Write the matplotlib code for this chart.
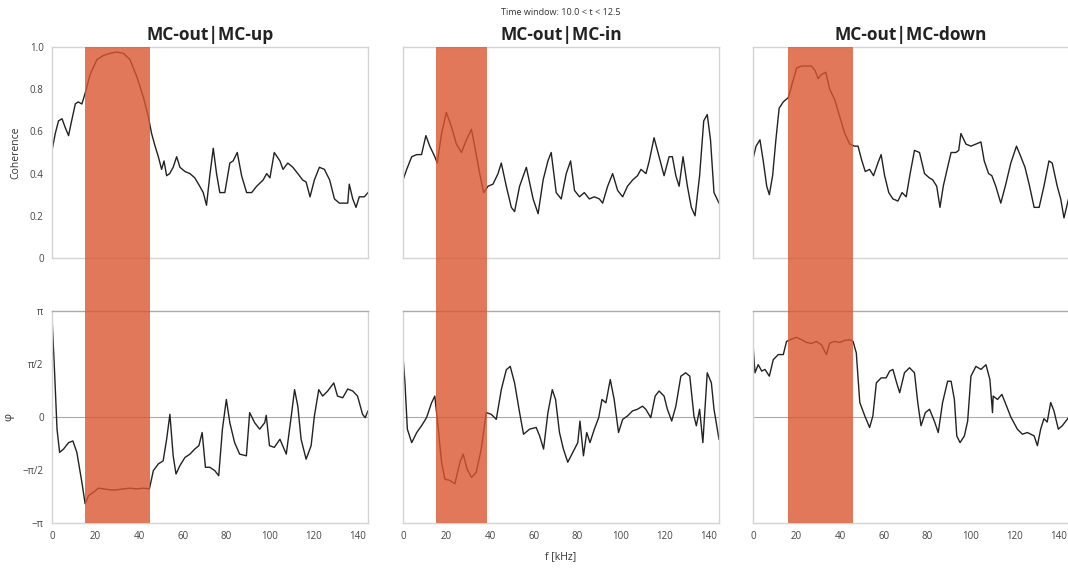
import numpy as np
import matplotlib
matplotlib.use("Agg")
import matplotlib.pyplot as plt
from matplotlib.patches import Rectangle
from matplotlib.transforms import blended_transform_factory

plt.rcParams['font.family'] = ['Open Sans', 'DejaVu Sans']

# --- data (f in kHz) ---
titles = ["MC-out|MC-up", "MC-out|MC-in", "MC-out|MC-down"]
bands = [(15, 45), (15, 38.5), (16, 46)]

f_coh_up = [0, 1.5, 3, 4.6, 6, 7.6, 9, 10.7, 12, 13.7, 15.2, 17.5, 20.6, 23.6, 26.7, 29.7, 32.8, 35.8,
            38.9, 42, 44.2, 45.7, 47.3, 48.8, 50.3, 51.4, 52.6, 54, 55.6, 57.2, 58.7, 61, 63.3, 65.5,
            67.8, 69.4, 70.9, 72.4, 74, 75.5, 77, 79.3, 81.6, 83.1, 85, 87, 89.3, 91.6, 93.9, 96.9,
            98.5, 100, 102, 104.6, 106, 108.2, 110.5, 112.8, 115, 116.6, 118.4, 120.4, 122.7, 125,
            127.4, 129.6, 131.9, 134.2, 135.7, 136.4, 138, 139.5, 141, 143.3, 145]
coh_up = [0.51, 0.59, 0.65, 0.66, 0.62, 0.58, 0.65, 0.73, 0.74, 0.73, 0.78, 0.87, 0.94, 0.96, 0.97,
          0.976, 0.97, 0.94, 0.86, 0.76, 0.67, 0.59, 0.53, 0.48, 0.42, 0.46, 0.39, 0.40, 0.43, 0.48,
          0.43, 0.41, 0.40, 0.38, 0.34, 0.31, 0.25, 0.39, 0.52, 0.40, 0.31, 0.31, 0.45, 0.46, 0.50,
          0.39, 0.31, 0.31, 0.34, 0.37, 0.40, 0.38, 0.50, 0.46, 0.42, 0.45, 0.43, 0.40, 0.37, 0.36,
          0.29, 0.37, 0.43, 0.42, 0.37, 0.28, 0.26, 0.26, 0.26, 0.35, 0.28, 0.24, 0.29, 0.29, 0.31]

f_ph_up = [0, 1.2, 2.3, 3.5, 5.3, 7.6, 9.6, 11.4, 13.7, 15.2, 16.8, 19, 21.3, 23.6, 26.7, 29.7, 32.8,
           35.8, 38.9, 42, 44.7, 46.5, 48.8, 51, 52.6, 54.1, 55.6, 56.9, 58.7, 61, 63.3, 65.5, 67.4,
           68.9, 70.4, 72.4, 74.7, 76.5, 78.2, 80, 81.6, 83.8, 86.1, 89.2, 90.7, 93, 95.3, 97.6,
           98.3, 99.8, 102, 104.6, 107.5, 109.8, 111.3, 112.8, 114.3, 116.6, 118.9, 120.4, 122.4,
           124.2, 126.5, 129.3, 131, 133.4, 135.7, 138, 140.2, 142.5, 143.7, 145]
ph_up = [2.97, 1.31, -0.36, -1.05, -0.95, -0.76, -0.71, -1.05, -1.93, -2.57, -2.33, -2.23, -2.11,
         -2.13, -2.16, -2.16, -2.13, -2.11, -2.13, -2.11, -2.13, -1.59, -1.39, -1.30, -0.66, 0.08,
         -1.15, -1.69, -1.44, -1.20, -1.10, -0.95, -0.85, -0.46, -1.49, -1.49, -1.59, -1.74, -0.36,
         0.52, -0.17, -0.76, -1.10, -1.15, 0.13, -0.17, -0.36, -0.17, 0.05, -0.85, -0.90, -0.66,
         -1.10, 0.03, 0.81, 0.32, -0.66, -1.25, -0.85, 0.03, 0.81, 0.62, 0.77, 1.01, 0.62, 0.57,
         0.83, 0.77, 0.62, 0.08, -0.02, 0.18]

f_coh_in = [0, 1.7, 4, 6.3, 8.5, 10.5, 12.3, 14.6, 15.7, 17.7, 19.9, 22.3, 24.5, 26.8, 29.1, 31.4,
            32.9, 35.2, 37, 39, 41.3, 43.6, 45.1, 47.4, 49.7, 51.2, 53.5, 56.6, 59.7, 62, 64.3, 66.5,
            68, 70.3, 72.6, 74.9, 76.9, 78.7, 81, 83.2, 85.5, 87.8, 90.1, 91.6, 93.9, 96.2, 98.5,
            100.8, 103, 105.4, 107.6, 109.2, 111.5, 113, 115.2, 117.5, 119.8, 122.1, 123.6, 125.2,
            126.7, 128.5, 130.5, 132.3, 134, 136.1, 138, 139.6, 141.1, 142.7, 145]
coh_in = [0.37, 0.42, 0.48, 0.49, 0.49, 0.58, 0.53, 0.48, 0.45, 0.59, 0.69, 0.62, 0.54, 0.50, 0.56,
          0.61, 0.53, 0.40, 0.31, 0.34, 0.35, 0.40, 0.45, 0.34, 0.24, 0.22, 0.34, 0.43, 0.28, 0.21,
          0.37, 0.46, 0.50, 0.31, 0.28, 0.40, 0.46, 0.32, 0.29, 0.31, 0.28, 0.29, 0.28, 0.26, 0.34,
          0.40, 0.32, 0.29, 0.34, 0.37, 0.39, 0.42, 0.40, 0.46, 0.57, 0.48, 0.39, 0.48, 0.48, 0.39,
          0.34, 0.48, 0.34, 0.24, 0.20, 0.39, 0.65, 0.68, 0.56, 0.31, 0.26]

f_ph_in = [0, 0.9, 2, 4, 6.3, 8.5, 10.8, 13.1, 14.6, 16.2, 17.7, 19.2, 21.5, 23.8, 26.1, 27.6, 29.4,
           31.4, 33.6, 35.9, 38.2, 40.5, 42.8, 45.1, 47.4, 49.2, 51.2, 53.5, 55.3, 58.1, 61.1, 62.7,
           64.5, 66.5, 68.5, 70, 71.8, 73.6, 75.6, 77.9, 80.2, 81.2, 82.8, 84.3, 85.8, 87.8, 89.8,
           91.3, 93.1, 95.1, 96.9, 98.9, 100.8, 103, 105.3, 107.6, 109.9, 111.4, 113.7, 115.7,
           117.5, 119.8, 121.3, 123.3, 125.2, 127.5, 129.7, 131.6, 133.5, 134.6, 136.1, 137.6,
           139.6, 141.5, 142.7, 145]
ph_in = [1.80, 1.01, -0.36, -0.76, -0.46, -0.26, -0.02, 0.42, 0.62, -0.36, -1.34, -1.84, -1.88,
         -1.98, -1.34, -1.10, -1.54, -1.79, -1.64, -0.95, 0.13, 0.08, -0.07, 0.81, 1.40, 1.50, 1.01,
         0.13, -0.51, -0.36, -0.31, -0.56, -0.95, 0.13, 0.81, 0.52, -0.46, -0.95, -1.34, -1.05,
         -0.76, -0.12, -1.15, -0.46, -0.76, -0.36, -0.02, 0.52, 0.42, 1.11, 0.52, -0.46, -0.07,
         0.03, 0.18, 0.23, 0.32, 0.23, -0.02, 0.62, 0.77, 0.62, 0.23, -0.12, 0.32, 1.21, 1.31,
         1.21, 0.03, -0.26, 0.23, -0.76, 1.31, 1.01, 0.23, -0.66]

f_coh_down = [0, 1.4, 3.2, 4.7, 6.3, 7.5, 9, 10.5, 12, 13.9, 16.2, 18.1, 20, 22.3, 24.5, 26.8, 28.4,
              29.9, 31.4, 33.4, 35.2, 37.5, 39.8, 42.1, 44.4, 46.6, 48.2, 49.7, 51.5, 53.5, 55.3,
              57.3, 58.8, 60.4, 62.3, 64.2, 66.5, 68.4, 70.3, 72.1, 74.1, 76.4, 78.7, 80.9, 82.5,
              84.3, 85.8, 87.3, 89.3, 90.9, 93.1, 94.4, 95.4, 97.7, 100, 102.3, 104.6, 106.1, 108.1,
              109.6, 111.4, 113.7, 116, 118.3, 120.9, 122.9, 124.8, 126.7, 129, 131.3, 133.5, 135.8,
              137.3, 139.6, 141.2, 142.7, 145]
coh_down = [0.47, 0.53, 0.56, 0.46, 0.34, 0.30, 0.39, 0.56, 0.71, 0.74, 0.76, 0.83, 0.90, 0.91, 0.91,
            0.91, 0.89, 0.85, 0.87, 0.88, 0.80, 0.75, 0.67, 0.59, 0.54, 0.53, 0.53, 0.47, 0.41, 0.42,
            0.39, 0.45, 0.49, 0.39, 0.31, 0.28, 0.27, 0.31, 0.29, 0.40, 0.51, 0.50, 0.40, 0.38, 0.37,
            0.34, 0.24, 0.34, 0.43, 0.50, 0.50, 0.51, 0.59, 0.54, 0.53, 0.54, 0.55, 0.46, 0.40, 0.39,
            0.34, 0.26, 0.35, 0.45, 0.53, 0.48, 0.43, 0.35, 0.24, 0.24, 0.34, 0.46, 0.45, 0.34, 0.28,
            0.19, 0.29]

f_ph_down = [0, 0.9, 2.4, 4, 5.5, 7.5, 9.3, 11.6, 13.9, 15.4, 17.7, 20, 22.3, 24.5, 26.8, 29.1, 31.4,
             33.7, 35.2, 37.5, 39.8, 42.1, 44.4, 45.9, 47.4, 49, 51.3, 53.5, 55, 56.6, 58.8, 61.1,
             62.7, 64.2, 65.7, 67.3, 69.5, 71.8, 74.1, 75.6, 77.1, 79.1, 81, 83.2, 85, 87, 89.3,
             90.9, 92.4, 93.5, 95, 97, 98.5, 100, 102.3, 104.6, 106.9, 108.7, 109.9, 110.2, 112.2,
             114.2, 116, 118.3, 121.3, 123.6, 125.9, 129, 130.5, 132, 133.5, 135, 136.6, 138.1,
             140.1, 141.9, 145]
ph_down = [2.16, 1.31, 1.55, 1.36, 1.41, 1.21, 1.70, 1.85, 1.85, 2.24, 2.31, 2.36, 2.29, 2.21, 2.18,
           2.24, 2.14, 1.85, 2.19, 2.24, 2.21, 2.27, 2.29, 2.24, 1.90, 0.43, 0.03, -0.31, 0.03, 1.01,
           1.16, 1.16, 1.36, 1.41, 1.06, 0.72, 1.31, 1.46, 1.31, 0.43, -0.26, 0.13, 0.23, -0.12,
           -0.46, 0.43, 1.06, 1.06, 0.52, -0.56, -0.76, -0.56, -0.12, 1.21, 1.50, 1.41, 1.55, 1.11,
           0.13, 0.62, 0.52, 0.67, 0.38, 0.0, -0.36, -0.51, -0.46, -0.56, -0.85, -0.36, -0.05, -0.15,
           0.43, 0.18, -0.36, -0.26, 0.0]

coh_f = [f_coh_up, f_coh_in, f_coh_down]
coh_v = [coh_up, coh_in, coh_down]
ph_f = [f_ph_up, f_ph_in, f_ph_down]
ph_v = [ph_up, ph_in, ph_down]

W, H = 1068, 570
fig = plt.figure(figsize=(W / 100, H / 100), dpi=100)

lefts = [52, 403, 753]
aw = 316
rows = [(47, 258), (311, 523)]

band_color = '#d9562f'
spine_color = '#d4d4d4'
tick_color = '#444444'

axes = []
for c in range(3):
    col = []
    for r, (y0, y1) in enumerate(rows):
        ax = fig.add_axes([lefts[c] / W, 1 - y1 / H, aw / W, (y1 - y0) / H])
        for s in ax.spines.values():
            s.set_color(spine_color)
            s.set_linewidth(1.0)
        ax.tick_params(length=0, labelsize=7, colors=tick_color, pad=6)
        ax.set_xlim(0, 145)
        col.append(ax)
    axes.append(col)

for c in range(3):
    ax_c, ax_p = axes[c]
    ax_c.plot(coh_f[c], coh_v[c], color='#222222', lw=1.0)
    ax_c.set_ylim(0, 1.0)
    ax_c.set_yticks([0, 0.2, 0.4, 0.6, 0.8, 1.0])
    ax_c.set_xticks([])
    ax_c.set_title(titles[c], fontsize=12.5, fontweight='bold', color='#222222', pad=5)

    ax_p.plot(ph_f[c], ph_v[c], color='#222222', lw=1.0)
    ax_p.axhline(0, color='#aaaaaa', lw=0.8, zorder=0)
    ax_p.spines['top'].set_color('#aaaaaa')
    ax_p.set_ylim(-np.pi, np.pi)
    ax_p.set_yticks([-np.pi, -np.pi / 2, 0, np.pi / 2, np.pi])
    ax_p.set_xticks(np.arange(0, 141, 20))

    if c == 0:
        ax_c.set_yticklabels(['0', '0.2', '0.4', '0.6', '0.8', '1.0'])
        ax_p.set_yticklabels(['−π', '−π/2', '0', 'π/2', 'π'])
        ax_c.set_ylabel('Coherence', fontsize=7.5, color='#333333', labelpad=6)
        ax_p.set_ylabel('φ', fontsize=8, color='#333333', labelpad=6)
    else:
        ax_c.set_yticklabels([])
        ax_p.set_yticklabels([])

    # shaded band spanning both rows
    tr = blended_transform_factory(ax_c.transData, fig.transFigure)
    y_bot = 1 - rows[1][1] / H
    y_top = 1 - rows[0][0] / H
    rect = Rectangle((bands[c][0], y_bot), bands[c][1] - bands[c][0], y_top - y_bot,
                     transform=tr, color=band_color, alpha=0.8, lw=0, zorder=5)
    fig.add_artist(rect)

axes[1][0].text(0.5, 1.14, 'Time window: 10.0 < t < 12.5', transform=axes[1][0].transAxes,
                ha='center', va='bottom', fontsize=6.5, color='#333333')
axes[1][1].set_xlabel('f [kHz]', fontsize=7.5, color='#333333', labelpad=6)

fig.savefig('out.png', dpi=100)
